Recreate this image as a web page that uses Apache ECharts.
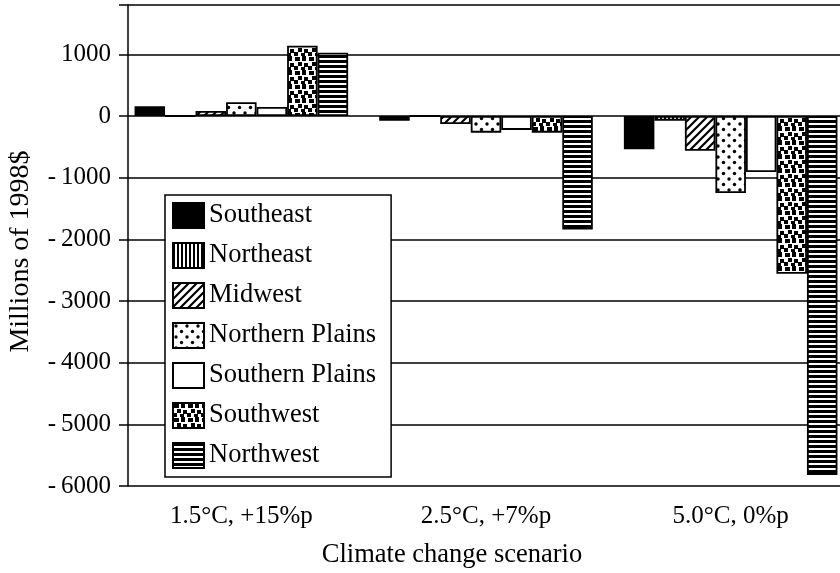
<!DOCTYPE html>
<html>
<head>
<meta charset="utf-8">
<script src="https://cdn.jsdelivr.net/npm/echarts@6/dist/echarts.min.js"></script>
<style>
html,body{margin:0;padding:0;background:#fff;}
#chart{width:840px;height:573px;}
</style>
</head>
<body>
<div id="chart"></div>
<script>
// ---- data ----
const categories = ['1.5°C, +15%p', '2.5°C, +7%p', '5.0°C, 0%p'];
const seriesNames = ['Southeast', 'Northeast', 'Midwest', 'Northern Plains', 'Southern Plains', 'Southwest', 'Northwest'];
const southeast      = [160, -75, -540];
const northeast      = [0, 0, -75];
const midwest        = [80, -130, -565];
const northernPlains = [225, -270, -1250];
const southernPlains = [145, -225, -910];
const southwest      = [1140, -270, -2560];
const northwest      = [1025, -1840, -5820];
const yTicks = [-6000, -5000, -4000, -3000, -2000, -1000, 0, 1000];
const yMin = -6000, yMax = 1800, yStep = 1000;
const seriesValues = [southeast, northeast, midwest, northernPlains, southernPlains, southwest, northwest];

// ---- fill patterns ----
function tile(w, h, draw) {
  const c = document.createElement('canvas');
  c.width = w; c.height = h;
  const ctx = c.getContext('2d');
  ctx.fillStyle = '#fff'; ctx.fillRect(0, 0, w, h);
  ctx.fillStyle = '#000'; ctx.strokeStyle = '#000';
  draw(ctx);
  return { image: c, repeat: 'repeat' };
}
const patterns = [
  '#000',
  tile(4, 4, ctx => { ctx.fillRect(0, 0, 2, 4); }),
  tile(8, 8, ctx => {
    ctx.lineWidth = 2.2;
    ctx.beginPath();
    ctx.moveTo(-2, 10); ctx.lineTo(10, -2);
    ctx.moveTo(-6, 6); ctx.lineTo(6, -6);
    ctx.moveTo(2, 14); ctx.lineTo(14, 2);
    ctx.stroke();
  }),
  tile(11, 11, ctx => {
    ctx.beginPath(); ctx.arc(3, 3, 1.7, 0, Math.PI * 2); ctx.fill();
    ctx.beginPath(); ctx.arc(8.5, 8.5, 1.7, 0, Math.PI * 2); ctx.fill();
  }),
  '#fff',
  tile(14, 14, ctx => {
    ctx.fillRect(1, 1, 5, 4);
    ctx.fillRect(8, 0, 4, 5);
    ctx.fillRect(4, 6, 4, 4);
    ctx.fillRect(10, 7, 4, 4);
    ctx.fillRect(0, 10, 4, 4);
    ctx.fillRect(7, 11, 4, 3);
  }),
  tile(4, 5, ctx => { ctx.fillRect(0, 0, 4, 3); })
];

const chart = echarts.init(document.getElementById('chart'), null, { renderer: 'canvas' });
const FONT = 'Liberation Serif';

const series = seriesNames.map((name, i) => ({
  name: name,
  type: 'bar',
  data: seriesValues[i],
  barGap: '0%',
  barCategoryGap: '12.7%',
  itemStyle: { color: patterns[i], borderColor: '#000', borderWidth: 1.8 },
  emphasis: { disabled: true },
  animation: false
}));

chart.setOption({
  backgroundColor: '#fff',
  animation: false,
  grid: { left: 119, width: 734, top: 5, height: 481, outerBoundsMode: 'none', containLabel: false },
  legend: {
    orient: 'vertical',
    left: 165, top: 195,
    data: seriesNames,
    itemWidth: 31, itemHeight: 25, itemGap: 13,
    padding: [7, 15, 8, 7],
    backgroundColor: '#fff',
    borderColor: '#000', borderWidth: 1.5, borderRadius: 0,
    icon: 'rect',
    textStyle: { fontFamily: FONT, fontSize: 26.5, color: '#000' },
    selectedMode: false,
    z: 10
  },
  xAxis: {
    type: 'category',
    data: categories,
    axisLine: { show: false },
    axisTick: { show: false },
    axisLabel: { fontFamily: FONT, fontSize: 25, color: '#000', margin: 18 },
    name: 'Climate change scenario',
    nameLocation: 'middle',
    nameGap: 56,
    nameTextStyle: { fontFamily: FONT, fontSize: 26.5, color: '#000', padding: [0, 68, 0, 0] }
  },
  yAxis: {
    type: 'value',
    min: yMin, max: yMax, interval: yStep,
    offset: -9,
    axisLine: { show: true, lineStyle: { color: '#000', width: 1.5 } },
    axisTick: { show: false },
    splitLine: { show: true, lineStyle: { color: '#000', width: 1.5 } },
    axisLabel: {
      fontFamily: FONT, fontSize: 25, color: '#000', margin: 17,
      formatter: v => yTicks.indexOf(v) < 0 ? '' : (v < 0 ? '-\u2009' + Math.abs(v) : String(v))
    },
    name: 'Millions of 1998$',
    nameLocation: 'middle',
    nameGap: 93,
    nameTextStyle: { fontFamily: FONT, fontSize: 28, color: '#000', padding: [0, 12, 0, 0] }
  },
  series: series
});
</script>
</body>
</html>
